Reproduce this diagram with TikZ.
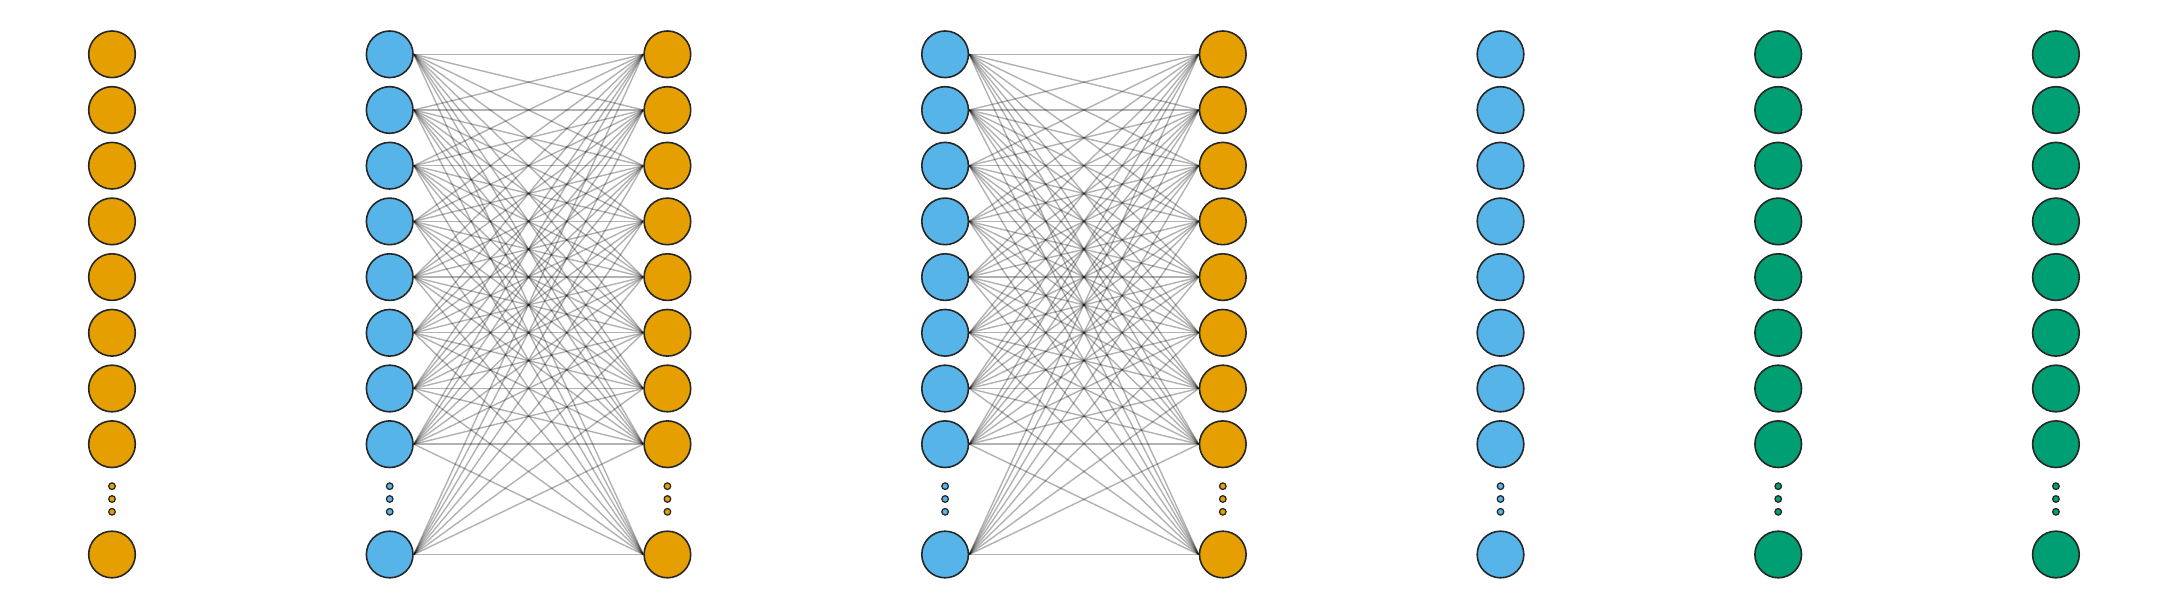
\documentclass[tikz,border=0pt]{standalone}
\usetikzlibrary{backgrounds}
\definecolor{orangeu}{RGB}{230,159,0}
\definecolor{skyu}{RGB}{86,180,233}
\definecolor{greenu}{RGB}{0,158,115}
\tikzset{
  unit/.style={circle,draw=black!85,line width=0.45pt,minimum size=0.466cm,inner sep=0pt},
  dotunit/.style={circle,draw=black!85,line width=0.35pt,minimum size=0.066cm,inner sep=0pt},
  link/.style={black,opacity=0.3,line width=0.4pt}
}
\begin{document}
\begin{tikzpicture}[x=0.01cm,y=-0.01cm]
  \useasboundingbox (0,0) rectangle (2170,610);
  % layers of units
  \foreach \c/\col in {1/orangeu,2/skyu,3/orangeu,4/skyu,5/orangeu,6/skyu,7/greenu,8/greenu}{
    \foreach \r in {0,...,7}
      \node[unit,fill=\col] (n\c-\r) at ({112+(\c-1)*277.7},{54.3+\r*55.7}) {};
    \node[unit,fill=\col] (n\c-9) at ({112+(\c-1)*277.7},554.5) {};
    \foreach \k/\d in {1/-12.8,2/0,3/12.8}
      \node[dotunit,fill=\col] (d\c-\k) at ({112+(\c-1)*277.7},{499+\d}) {};
  }
  % dense connections
  \begin{scope}[on background layer]
    \foreach \a/\b in {2/3,4/5}
      \foreach \i in {0,...,7,9}
        \foreach \j in {0,...,7,9}
          \draw[link] (n\a-\i.east) -- (n\b-\j.west);
  \end{scope}
\end{tikzpicture}
\end{document}
